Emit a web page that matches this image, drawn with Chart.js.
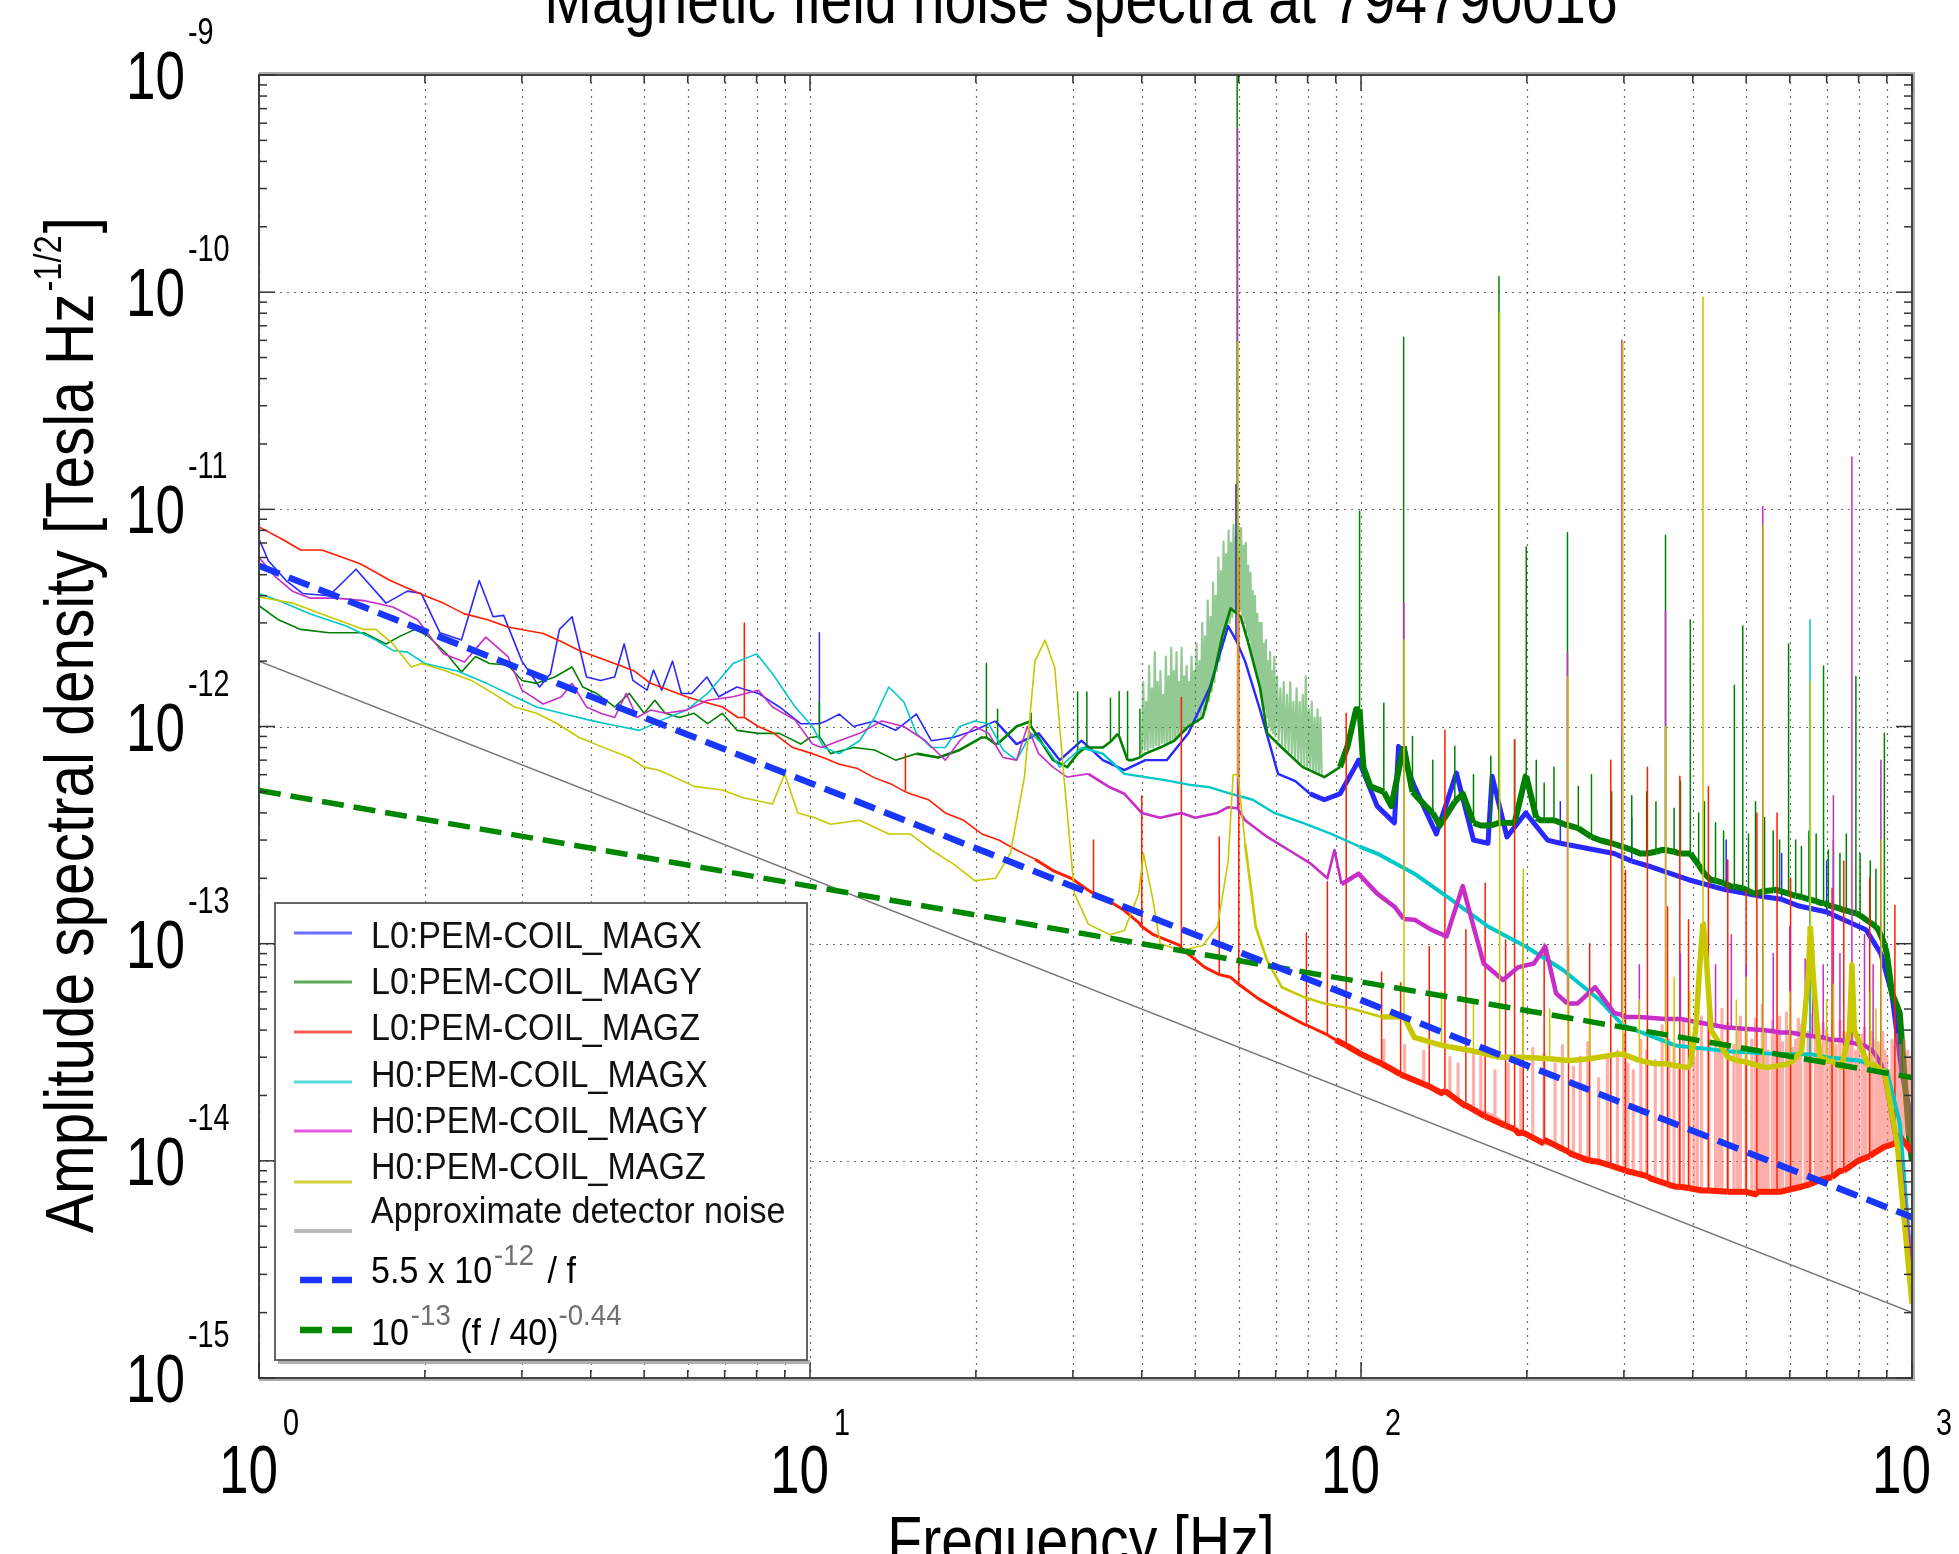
<!DOCTYPE html>
<html><head><meta charset="utf-8">
<script src="https://cdn.jsdelivr.net/npm/chart.js@4.4.1/dist/chart.umd.min.js"></script>
<style>html,body{margin:0;padding:0;background:#fff;}#wrap{width:1959px;height:1554px;position:relative;}</style>
</head><body><div id="wrap"><canvas id="c"></canvas></div>
<script>
// ---------------- DATA ----------------
const titleText = 'Magnetic field noise spectra at 794790016';
const xAxisTitle = 'Frequency [Hz]';
const yAxisTitleMain = 'Amplitude spectral density [Tesla Hz';
const yAxisTitleSup = '-1/2';
const yAxisTitleEnd = ']';

const xMajorTicks = [1, 10, 100, 1000];
const xTickExponents = ['0', '1', '2', '3'];
const yMajorTicks = [1e-15, 1e-14, 1e-13, 1e-12, 1e-11, 1e-10, 1e-9];
const yTickExponents = ['-15', '-14', '-13', '-12', '-11', '-10', '-9'];
const minorMultipliers = [2, 3, 4, 5, 6, 7, 8, 9];

const seriesNames = ['L0:PEM-COIL_MAGX', 'L0:PEM-COIL_MAGY', 'L0:PEM-COIL_MAGZ',
  'H0:PEM-COIL_MAGX', 'H0:PEM-COIL_MAGY', 'H0:PEM-COIL_MAGZ', 'Approximate detector noise'];

// [frequency Hz, amplitude]
const magxL0 = [[1.0,7.3e-12],[1.04,5.8e-12],[1.12,4.7e-12],[1.2,4.1e-12],[1.34,4.0e-12],[1.5,5.3e-12],[1.7,3.7e-12],[1.86,4.2e-12],[1.97,4.1e-12],[2.13,2.7e-12],[2.33,2.5e-12],[2.51,4.7e-12],[2.66,3.2e-12],[2.78,3.25e-12],[3.0,2.0e-12],[3.23,1.52e-12],[3.38,1.75e-12],[3.51,2.8e-12],[3.7,3.2e-12],[3.93,1.69e-12],[4.17,1.63e-12],[4.42,1.69e-12],[4.6,2.4e-12],[4.77,1.63e-12],[5.06,1.47e-12],[5.2,1.82e-12],[5.38,1.47e-12],[5.63,2.0e-12],[5.84,1.42e-12],[6.1,1.42e-12],[6.5,1.69e-12],[6.83,1.37e-12],[7.37,1.52e-12],[8.06,1.42e-12],[8.8,1.23e-12],[9.62,1.03e-12],[10.15,1.03e-12],[10.7,1.06e-12],[11.3,1.14e-12],[12.0,1.0e-12],[13.1,1.06e-12],[14.3,9.6e-13],[15.6,1.14e-12],[16.6,8.6e-13],[18.2,8.9e-13],[19.9,9.6e-13],[21.7,1.06e-12],[23.7,8.3e-13],[26.0,9.3e-13],[28.4,7.0e-13],[31.1,8.6e-13],[34.0,7.0e-13],[37.2,6.3e-13],[40.6,7.0e-13],[44.4,7.0e-13],[48.6,9.3e-13],[53.2,1.52e-12],[57.4,2.9e-12],[61.6,2.0e-12],[65.6,1.19e-12],[70.7,6.05e-13],[76.0,5.6e-13],[80.8,4.9e-13],[85.8,4.6e-13],[91.6,4.9e-13],[97.5,6.5e-13],[99.0,7.0e-13],[107,4.3e-13],[115,3.6e-13],[117,8.1e-13],[125,5.3e-13],[137,3.2e-13],[149,6.1e-13],[160,3.0e-13],[170,2.9e-13],[173,5.9e-13],[184,3.1e-13],[199,4.0e-13],[218,3.0e-13],[247,2.8e-13],[288,2.6e-13],[336,2.26e-13],[393,1.97e-13],[459,1.77e-13],[535,1.65e-13],[624,1.49e-13],[731,1.33e-13],[825,1.16e-13],[878,9.0e-14],[919,5.9e-14],[960,2.5e-14],[1000,1.5e-14]];
// [frequency, foot, peak]
const magxL0Spikes = [[10.4,1.03e-12,2.7e-12],[59.3,2.5e-12,1.3e-11],[230,2.9e-13,4.5e-13],[310,2.4e-13,3.8e-13],[460,1.77e-13,3.0e-13],[580,1.6e-13,2.6e-13],[700,1.4e-13,2.4e-13]];

const magyL0 = [[1.0,3.6e-12],[1.085,3.1e-12],[1.19,2.8e-12],[1.34,2.7e-12],[1.46,2.7e-12],[1.55,2.7e-12],[1.7,2.4e-12],[1.8,2.6e-12],[1.92,2.8e-12],[2.03,2.6e-12],[2.19,2.16e-12],[2.33,1.78e-12],[2.47,2.1e-12],[2.62,1.95e-12],[2.83,1.92e-12],[3.0,1.63e-12],[3.19,1.58e-12],[3.44,1.69e-12],[3.7,1.88e-12],[3.87,1.52e-12],[4.1,1.42e-12],[4.42,1.23e-12],[4.7,1.42e-12],[5.0,1.15e-12],[5.23,1.32e-12],[5.46,1.15e-12],[5.8,1.1e-12],[6.16,1.15e-12],[6.52,1.03e-12],[6.93,1.15e-12],[7.37,9.6e-13],[8.06,9.3e-13],[8.8,9.3e-13],[9.62,8.3e-13],[10.0,8.9e-13],[10.9,7.5e-13],[12.0,8.0e-13],[13.1,7.8e-13],[14.3,7.0e-13],[15.6,7.5e-13],[17.1,7.2e-13],[18.7,7.8e-13],[20.5,8.9e-13],[21.7,8.3e-13],[23.7,1.0e-12],[25.2,1.06e-12],[27.6,7.0e-13],[29.3,6.5e-13],[31.6,8.0e-13],[34.0,8.0e-13],[36.1,9.2e-13],[38.3,7.0e-13],[40.6,7.5e-13],[43.2,8.0e-13],[45.8,8.6e-13],[48.6,1.0e-12],[51.6,1.1e-12],[54.0,1.7e-12],[56.0,2.6e-12],[58.0,3.5e-12],[60.5,3.2e-12],[62.5,2.4e-12],[65.6,1.5e-12],[67.6,9.3e-13],[71.8,8.0e-13],[78.4,6.5e-13],[85.8,5.85e-13],[91.6,6.5e-13],[94.5,8.1e-13],[98.0,1.2e-12],[101,6.5e-13],[104,5.3e-13],[113.5,4.3e-13],[119.5,8.1e-13],[131,4.3e-13],[139,3.5e-13],[153,4.9e-13],[165,3.5e-13],[181,3.6e-13],[199,5.9e-13],[212,3.7e-13],[239,3.5e-13],[271,3.0e-13],[321,2.6e-13],[352,2.7e-13],[393,2.6e-13],[431,1.97e-13],[471,1.83e-13],[518,1.7e-13],[567,1.77e-13],[624,1.65e-13],[683,1.54e-13],[750,1.43e-13],[825,1.29e-13],[870,1.15e-13],[900,9.0e-14],[920,5.9e-14],[950,4.8e-14],[990,1.2e-14],[1000,1.0e-14]];
const magyL0Hump = [[40.0,7.5e-13],[40.25,1.6e-12],[40.5,7.8e-13],[40.75,1.3e-12],[41.0,7.8e-13],[41.25,1.9e-12],[41.5,8e-13],[41.75,1.5e-12],[42.0,8e-13],[42.25,2.2e-12],[42.5,8.2e-13],[42.75,1.6e-12],[43.0,8.2e-13],[43.25,1.8e-12],[43.5,8.4e-13],[43.75,1.4e-12],[44.0,8.4e-13],[44.25,2.1e-12],[44.5,8.5e-13],[44.75,1.7e-12],[45.0,8.6e-13],[45.25,2.3e-12],[45.5,8.8e-13],[45.75,1.8e-12],[46.0,8.8e-13],[46.25,2.2e-12],[46.5,9e-13],[46.75,1.6e-12],[47.0,9.2e-13],[47.25,2.3e-12],[47.5,9.5e-13],[47.75,1.7e-12],[48.0,9.6e-13],[48.25,1.9e-12],[48.5,1e-12],[48.75,1.6e-12],[49.0,1e-12],[49.25,2.1e-12],[49.5,1e-12],[49.75,1.8e-12],[50.0,1.05e-12],[50.3,2.4e-12],[50.6,1.05e-12],[50.9,2.0e-12],[51.2,1.1e-12],[51.5,3.0e-12],[51.8,1.15e-12],[52.1,2.6e-12],[52.4,1.2e-12],[52.7,3.8e-12],[53.0,1.3e-12],[53.3,3.2e-12],[53.6,1.45e-12],[53.9,4.6e-12],[54.2,1.6e-12],[54.5,4.0e-12],[54.8,1.8e-12],[55.1,6.0e-12],[55.4,2.0e-12],[55.7,5.2e-12],[56.0,2.3e-12],[56.3,7.1e-12],[56.6,2.5e-12],[56.9,6.2e-12],[57.2,2.8e-12],[57.5,8.0e-12],[57.8,3.0e-12],[58.1,7.0e-12],[58.4,3.2e-12],[58.7,8.5e-12],[59.0,3.4e-12],[59.3,7.5e-12],[59.6,3.5e-12],[60.0,8.3e-12],[60.3,3.4e-12],[60.6,8.2e-12],[60.9,3.2e-12],[61.2,6.8e-12],[61.5,3.0e-12],[61.8,7.0e-12],[62.1,2.7e-12],[62.4,5.5e-12],[62.7,2.5e-12],[63.0,5.1e-12],[63.3,2.2e-12],[63.6,4.2e-12],[63.9,2.0e-12],[64.2,4.0e-12],[64.5,1.8e-12],[64.8,3.3e-12],[65.1,1.6e-12],[65.4,3.0e-12],[65.7,1.45e-12],[66.0,3.0e-12],[66.3,1.3e-12],[66.6,2.4e-12],[66.9,1.2e-12],[67.2,2.5e-12],[67.5,1.1e-12],[67.8,2.0e-12],[68.1,1.0e-12],[68.4,2.2e-12],[68.7,9.6e-13],[69.0,1.8e-12],[69.3,9.3e-13],[69.6,2.1e-12],[69.9,9e-13],[70.4,1.7e-12],[70.9,8.6e-13],[71.4,1.5e-12],[71.9,8.2e-13],[72.4,1.6e-12],[72.9,7.9e-13],[73.4,1.4e-12],[73.9,7.7e-13],[74.4,1.6e-12],[74.9,7.5e-13],[75.4,1.3e-12],[75.9,7.2e-13],[76.4,1.5e-12],[76.9,7e-13],[77.4,1.3e-12],[77.9,6.8e-13],[78.4,1.4e-12],[78.9,6.6e-13],[79.4,1.7e-12],[79.9,6.5e-13],[80.4,1.2e-12],[80.9,6.4e-13],[81.4,1.3e-12],[81.9,6.2e-13],[82.4,1.1e-12],[82.9,6.1e-13],[83.4,1.2e-12],[83.9,6e-13],[84.4,1.1e-12],[84.9,5.9e-13]];
const magyL0Spikes = [[10.4,9e-13,1.3e-12],[20.9,8.9e-13,1.95e-12],[21.9,8.3e-13,1.2e-12],[25.2,1.0e-12,1.15e-12],[30.6,7.5e-13,1.44e-12],[31.8,8e-13,1.44e-12],[35.1,8.5e-13,1.35e-12],[36.4,9e-13,1.45e-12],[37.7,7e-13,1.45e-12],[39.7,7.2e-13,1.2e-12],[59.6,3.3e-12,1.0e-9],[99.4,1.2e-12,9.8e-12],[110,5e-13,1.28e-12],[119.5,8.1e-13,6.2e-11],[124,5e-13,9e-13],[135,4e-13,7e-13],[148,4.5e-13,8.1e-13],[160,3.6e-13,6e-13],[172,3.5e-13,7.3e-13],[178,3.6e-13,1.18e-10],[190,3.6e-13,8.7e-13],[199.5,5.9e-13,6.7e-12],[208,3.8e-13,7e-13],[215,3.7e-13,5.5e-13],[224,3.7e-13,6.5e-13],[237,3.5e-13,7.8e-12],[248,3.4e-13,5.3e-13],[262,3.1e-13,6.0e-13],[285,2.9e-13,5e-13],[298,2.8e-13,9e-13],[310,2.7e-13,4.8e-13],[330,2.6e-13,5.0e-13],[343,2.65e-13,4.5e-13],[357,2.7e-13,7.6e-12],[370,2.65e-13,4.2e-13],[380,2.6e-13,5.6e-13],[396,2.6e-13,3.1e-12],[410,2.3e-13,4e-13],[420,2.1e-13,4.5e-13],[440,1.95e-13,3.6e-13],[455,1.9e-13,3.3e-13],[476,1.83e-13,1.55e-12],[493,1.8e-13,2.9e-12],[505,1.75e-13,3.2e-13],[520,1.7e-13,4.5e-13],[540,1.75e-13,3.8e-13],[560,1.76e-13,3.3e-13],[575,1.75e-13,3.0e-13],[597,1.7e-13,2.4e-12],[615,1.66e-13,3.0e-13],[630,1.64e-13,2.8e-13],[650,1.6e-13,3.3e-13],[670,1.57e-13,3.2e-13],[691,1.54e-13,1.9e-12],[705,1.5e-13,2.7e-13],[720,1.48e-13,3.0e-13],[740,1.45e-13,2.6e-13],[760,1.42e-13,3.2e-13],[791,1.38e-13,1.7e-12],[805,1.35e-13,2.6e-13],[840,1.25e-13,2.4e-13],[860,1.2e-13,2.2e-13],[891,1.0e-13,9.3e-13]];

const magzL0 = [[1.0,8.3e-12],[1.1,7.3e-12],[1.19,6.5e-12],[1.3,6.5e-12],[1.42,6.0e-12],[1.53,5.6e-12],[1.73,4.7e-12],[2.0,4.0e-12],[2.16,3.7e-12],[2.36,3.3e-12],[2.6,3.1e-12],[2.83,2.87e-12],[3.28,2.68e-12],[3.55,2.45e-12],[3.81,2.24e-12],[4.42,1.95e-12],[4.8,1.8e-12],[5.14,1.58e-12],[5.97,1.37e-12],[6.4,1.3e-12],[6.94,1.23e-12],[7.4,1.1e-12],[8.06,1.0e-12],[8.6,9.3e-13],[9.3,8.0e-13],[10.1,7.5e-13],[10.7,7.1e-13],[11.3,6.7e-13],[12.2,6.4e-13],[13.1,5.8e-13],[14.1,5.4e-13],[15.2,4.9e-13],[16.4,4.6e-13],[17.6,4.0e-13],[19.0,3.7e-13],[20.5,3.2e-13],[22.0,3.0e-13],[23.7,2.7e-13],[25.6,2.45e-13],[27.6,2.17e-13],[29.8,2.0e-13],[32.0,1.76e-13],[34.5,1.6e-13],[37.2,1.42e-13],[39.5,1.25e-13],[42.0,1.1e-13],[47.0,9.8e-14],[52.0,7.8e-14],[58.0,7.0e-14],[65.0,5.6e-14],[72.0,4.8e-14],[80.0,4.2e-14],[90.0,3.6e-14],[100,3.1e-14],[112,2.7e-14],[125,2.35e-14],[140,2.05e-14],[155,1.78e-14],[173,1.55e-14],[193,1.34e-14],[215,1.2e-14],[240,1.08e-14],[270,9.9e-15],[299,9.1e-15],[335,8.3e-15],[372,7.6e-15],[415,7.3e-15],[463,7.2e-15],[520,7.0e-15],[576,7.2e-15],[630,7.6e-15],[685,8.2e-15],[740,9.0e-15],[798,1.0e-14],[850,1.08e-14],[891,1.16e-14],[950,1.3e-14],[1000,1.1e-14]];
const magzL0Spikes = [[7.6,1.1e-12,3.0e-12],[14.9,5.0e-13,7.5e-13],[32.7,1.7e-13,3.0e-13],[40.0,1.2e-13,4.8e-13],[47.2,9.5e-14,1.36e-12],[55.3,7.2e-14,3.1e-13],[60.0,6.5e-14,6e-12],[79.6,4.2e-14,1.12e-13],[86.9,3.8e-14,1.93e-13],[94,3.4e-14,1.15e-12],[109,2.8e-14,7.4e-14],[118,2.5e-14,6.6e-14],[133,2.2e-14,9.7e-14],[142,2.1e-14,9.6e-13],[155,1.8e-14,1.16e-13],[168,1.6e-14,1.9e-13],[183,1.45e-14,1.04e-13],[190,1.4e-14,8.7e-13],[197,1.35e-14,1.83e-13],[215,1.25e-14,1.0e-13],[238,1.1e-14,9.7e-14],[260,1.0e-14,1.0e-13],[284,9.5e-15,7.0e-13],[302,9.0e-15,2.18e-13],[331,8.5e-15,6.5e-13],[360,7.8e-15,1.48e-13],[379,7.6e-15,5.9e-13],[393,7.5e-15,1.29e-13],[427,7.3e-15,5.3e-13],[463,7.2e-15,2.43e-13],[500,7.2e-15,1.77e-13],[523,7.2e-15,4.0e-13],[569,7.2e-15,4.0e-13],[602,7.4e-15,2.0e-13],[653,7.8e-15,3.2e-13],[716,8.4e-15,1.8e-13],[752,9.0e-15,2.4e-13],[838,1.05e-14,2.0e-13],[931,1.2e-14,1.5e-13]];
const magzL0Dense = [[110,2.7e-14,3.6e-14],[120,2.5e-14,3.4e-14],[130,2.3e-14,3.2e-14],[145,2.0e-14,3.0e-14],[150,1.9e-14,2.8e-14],[160,1.75e-14,3.2e-14],[165,1.7e-14,3.0e-14],[175,1.6e-14,2.6e-14],[185,1.45e-14,2.8e-14],[195,1.35e-14,3.0e-14],[205,1.3e-14,3.3e-14],[215,1.2e-14,3.1e-14],[225,1.2e-14,2.8e-14],[232,1.12e-14,3.4e-14],[243,1.08e-14,2.7e-14],[250,1.05e-14,3.0e-14],[258,1.03e-14,3.5e-14],[270,1.0e-14,2.4e-14],[280,9.6e-15,3.0e-14],[292,9.3e-15,3.2e-14],[300,9.1e-15,3.8e-14],[305,9.0e-15,2.8e-14],[312,8.8e-15,2.6e-14],[322,8.6e-15,3.6e-14],[330,8.4e-15,3.2e-14],[342,8.2e-15,2.9e-14],[352,8.0e-15,4.2e-14],[362,7.8e-15,3.6e-14],[370,7.7e-15,3.3e-14],[378,7.6e-15,2.8e-14],[385,7.6e-15,4.4e-14],[395,7.5e-15,3.7e-14],[402,7.4e-15,3.0e-14],[408,7.4e-15,3.3e-14],[415,7.3e-15,4.6e-14],[428,7.3e-15,4.1e-14],[440,7.3e-15,3.8e-14],[446,7.25e-15,3.2e-14],[452,7.2e-15,5.0e-14],[463,7.2e-15,4.3e-14],[475,7.2e-15,3.4e-14],[482,7.2e-15,3.9e-14],[488,7.2e-15,4.6e-14],[500,7.2e-15,4.0e-14],[512,7.2e-15,3.6e-14],[520,7.2e-15,4.5e-14],[528,7.2e-15,3.1e-14],[535,7.2e-15,5.2e-14],[542,7.2e-15,4.0e-14],[548,7.2e-15,3.2e-14],[558,7.2e-15,4.4e-14],[565,7.25e-15,3.9e-14],[575,7.3e-15,4.6e-14],[582,7.3e-15,3.5e-14],[592,7.3e-15,4.8e-14],[600,7.4e-15,4.0e-14],[608,7.45e-15,3.3e-14],[615,7.5e-15,3.6e-14],[622,7.55e-15,4.5e-14],[628,7.6e-15,4.2e-14],[640,7.7e-15,3.0e-14],[648,7.8e-15,3.9e-14],[655,7.85e-15,4.7e-14],[668,8.0e-15,4.5e-14],[675,8.1e-15,3.7e-14],[682,8.2e-15,3.3e-14],[690,8.2e-15,4.3e-14],[700,8.3e-15,4.0e-14],[710,8.4e-15,3.6e-14],[718,8.5e-15,4.2e-14],[728,8.6e-15,3.4e-14],[740,8.8e-15,4.4e-14],[752,9.0e-15,3.9e-14],[758,9.1e-15,3.2e-14],[765,9.3e-15,3.5e-14],[772,9.4e-15,4.0e-14],[778,9.5e-15,4.2e-14],[790,9.8e-15,3.2e-14],[800,1.0e-14,3.6e-14],[812,1.02e-14,3.8e-14],[820,1.03e-14,4.1e-14],[825,1.04e-14,3.0e-14],[838,1.06e-14,3.3e-14],[845,1.07e-14,3.9e-14],[850,1.08e-14,3.6e-14],[862,1.1e-14,2.8e-14],[868,1.11e-14,3.5e-14],[875,1.12e-14,3.4e-14],[885,1.14e-14,3.9e-14],[893,1.15e-14,3.2e-14],[900,1.16e-14,3.0e-14],[912,1.18e-14,2.6e-14],[920,1.2e-14,3.6e-14],[930,1.22e-14,3.3e-14],[938,1.24e-14,3.8e-14],[945,1.25e-14,2.8e-14],[952,1.27e-14,3.4e-14],[960,1.3e-14,2.5e-14],[968,1.32e-14,3.6e-14],[975,1.35e-14,2.6e-14],[982,1.33e-14,3.2e-14],[990,1.3e-14,2.2e-14],[995,1.2e-14,3.0e-14]];

const magxH0 = [[1.0,4.1e-12],[1.085,3.8e-12],[1.24,3.3e-12],[1.44,2.9e-12],[1.63,2.5e-12],[1.75,2.24e-12],[1.86,2.2e-12],[2.0,1.95e-12],[2.29,1.8e-12],[2.59,1.58e-12],[2.91,1.37e-12],[3.19,1.23e-12],[3.54,1.15e-12],[3.98,1.07e-12],[4.42,1.01e-12],[4.91,9.6e-13],[5.38,1.07e-12],[5.97,1.19e-12],[6.52,1.42e-12],[7.25,1.95e-12],[8.0,2.16e-12],[8.55,1.75e-12],[9.4,1.23e-12],[10.1,1.0e-12],[10.6,8.0e-13],[11.3,7.5e-13],[12.3,8.6e-13],[13.1,1.1e-12],[13.9,1.52e-12],[14.8,1.3e-12],[15.6,9.3e-13],[16.6,8.0e-13],[17.6,8.0e-13],[18.7,1.0e-12],[19.9,1.06e-12],[21.1,1.03e-12],[22.4,7.8e-13],[23.7,7.0e-13],[25.2,9.3e-13],[26.8,8.0e-13],[28.4,6.5e-13],[31.1,8.0e-13],[34.0,7.5e-13],[37.2,6.05e-13],[40.6,5.85e-13],[44.4,5.65e-13],[48.6,5.4e-13],[53.2,5.25e-13],[58.1,4.9e-13],[63.6,4.6e-13],[69.6,4.0e-13],[78.4,3.6e-13],[88.3,3.2e-13],[99.4,2.8e-13],[107,2.6e-13],[125,2.1e-13],[146,1.59e-13],[170,1.2e-13],[199,9.7e-14],[232,7.6e-14],[271,5.5e-14],[299,4.2e-14],[372,3.4e-14],[463,3.2e-14],[576,3.1e-14],[700,3.0e-14],[800,2.9e-14],[900,2.6e-14],[950,1.5e-14],[1000,3e-15]];
const magxH0Spikes = [[653,3.1e-14,3.1e-12]];

const magyH0 = [[1.0,6.0e-12],[1.07,4.9e-12],[1.15,4.2e-12],[1.24,3.9e-12],[1.38,3.9e-12],[1.55,3.8e-12],[1.75,3.55e-12],[1.94,3.1e-12],[2.16,2.16e-12],[2.36,1.98e-12],[2.58,2.58e-12],[2.83,2.1e-12],[3.0,1.47e-12],[3.28,1.27e-12],[3.54,1.37e-12],[3.7,1.58e-12],[3.93,1.23e-12],[4.17,1.15e-12],[4.42,1.1e-12],[4.64,1.42e-12],[4.85,1.1e-12],[5.14,1.19e-12],[5.46,1.15e-12],[5.97,1.19e-12],[6.52,1.32e-12],[7.25,1.37e-12],[8.06,1.47e-12],[8.55,1.23e-12],[9.4,1.07e-12],[10.1,8.3e-13],[10.5,8.0e-13],[11.3,8.6e-13],[12.3,9.3e-13],[13.5,1.06e-12],[14.8,1.0e-12],[16.2,8.6e-13],[17.6,7.0e-13],[18.7,8.6e-13],[19.9,1.0e-12],[21.1,9.3e-13],[22.4,7.2e-13],[23.7,7.0e-13],[24.8,1.0e-12],[26.0,7.5e-13],[27.6,6.5e-13],[29.3,5.85e-13],[32.0,6.05e-13],[35.0,5.25e-13],[37.2,4.9e-13],[40.0,4.0e-13],[43.2,3.8e-13],[47.2,4.0e-13],[50.0,3.8e-13],[54.9,4.0e-13],[57.4,4.25e-13],[61.6,3.7e-13],[67.6,3.1e-13],[73.9,2.7e-13],[80.8,2.35e-13],[86.9,2.0e-13],[89.5,2.7e-13],[92.2,1.88e-13],[99.0,2.1e-13],[107,1.7e-13],[115,1.48e-13],[125,1.29e-13],[134,1.16e-13],[143,1.08e-13],[153,1.84e-13],[160,1.2e-13],[167,8.1e-14],[181,6.8e-14],[193,7.8e-14],[206,8.1e-14],[216,9.7e-14],[226,5.9e-14],[247,5.3e-14],[266,6.3e-14],[288,4.8e-14],[299,4.6e-14],[372,4.5e-14],[463,4.1e-14],[576,3.9e-14],[716,3.6e-14],[812,3.4e-14],[891,2.5e-14],[950,1.0e-14],[1000,3e-15]];
const magyH0Spikes = [[59.7,4.2e-13,5.7e-10],[119.6,1.3e-13,3.7e-12],[237,5.3e-14,2.2e-12],[297.5,4.7e-14,6.0e-11],[320,4.6e-14,8e-14],[357,4.5e-14,3.4e-12],[380,4.5e-14,9e-14],[440,4.2e-14,8e-14],[470,4.1e-14,1.1e-13],[500,4.05e-14,8e-14],[536,4.0e-14,1.03e-11],[560,3.95e-14,9e-14],[600,3.9e-14,1.2e-13],[640,3.8e-14,8.5e-14],[660,3.75e-14,1.0e-13],[690,3.7e-14,8e-14],[720,3.6e-14,4.8e-13],[740,3.6e-14,9e-14],[778,3.5e-14,1.74e-11],[820,3.4e-14,1.1e-13],[850,3.2e-14,8e-14],[878,2.8e-14,7e-13]];

const magzH0 = [[1.0,3.95e-12],[1.15,3.7e-12],[1.34,3.2e-12],[1.55,2.8e-12],[1.63,2.8e-12],[1.75,2.4e-12],[1.89,1.88e-12],[1.97,1.95e-12],[2.16,1.82e-12],[2.43,1.63e-12],[2.66,1.42e-12],[2.91,1.23e-12],[3.19,1.15e-12],[3.48,1.03e-12],[3.81,8.9e-13],[4.17,8.1e-13],[4.7,7.2e-13],[5.0,6.5e-13],[5.3,6.3e-13],[5.63,5.9e-13],[6.16,5.3e-13],[6.93,5.1e-13],[7.56,4.7e-13],[8.55,4.4e-13],[9.0,6.05e-13],[9.5,4.0e-13],[10.2,3.8e-13],[10.9,3.55e-13],[12.3,3.7e-13],[13.9,3.2e-13],[15.2,3.2e-13],[16.6,2.7e-13],[18.2,2.33e-13],[19.9,1.95e-13],[21.7,2.0e-13],[23.1,2.6e-13],[24.5,5.85e-13],[25.6,2.0e-12],[26.7,2.5e-12],[27.8,1.88e-12],[28.9,5.85e-13],[30.2,1.7e-13],[32.0,1.23e-13],[35.0,1.1e-13],[37.2,1.15e-13],[39.5,1.7e-13],[40.3,2.6e-13],[41.8,1.65e-13],[43.2,1.0e-13],[47.2,9.3e-14],[51.6,9.8e-14],[54.9,1.2e-13],[57.4,2.4e-13],[58.6,6e-13],[61.6,2.9e-13],[64.4,1.2e-13],[67.5,8.4e-14],[71.8,6.3e-14],[78.4,5.7e-14],[85.8,5.3e-14],[96.8,5.0e-14],[109,4.6e-14],[125,3.7e-14],[155,3.25e-14],[193,3.0e-14],[240,2.9e-14],[293,3.1e-14],[341,2.8e-14],[387,2.7e-14],[405,4e-14],[412,8e-14],[418,1.24e-13],[424,8e-14],[432,4e-14],[463,3.0e-14],[551,2.7e-14],[630,3.2e-14],[648,7e-14],[655,1.2e-13],[662,7e-14],[680,3e-14],[745,2.7e-14],[770,4e-14],[778,8e-14],[786,4e-14],[830,2.8e-14],[891,2.6e-14],[940,1.2e-14],[1000,2.2e-15]];
const magzH0Spikes = [[59.8,6e-13,5.9e-11],[119.7,4.6e-14,2.5e-12],[140,3.4e-14,6e-14],[160,3.2e-14,5.5e-14],[178.5,3.0e-14,8e-11],[197,3.0e-14,2.2e-13],[220,2.95e-14,5e-14],[237.5,2.9e-14,1.7e-12],[260,2.95e-14,6e-14],[298.7,3.1e-14,5.9e-11],[320,2.9e-14,5.5e-14],[357.5,2.8e-14,1.0e-12],[370,2.75e-14,7e-14],[395,2.7e-14,6e-14],[417.5,1.24e-13,9.5e-11],[480,2.9e-14,5.5e-14],[500,2.85e-14,7e-14],[537,2.7e-14,8.5e-12],[600,2.8e-14,6e-14],[654,1.2e-13,1.6e-12],[700,2.9e-14,5.5e-14],[720,2.85e-14,6.5e-14],[840,2.8e-14,6e-14],[860,2.75e-14,5e-14],[880,2.6e-14,3e-13]];

const detectorNoise = [[1, 2.0e-12], [1000, 2.0e-15]];
const oneOverFModel = [[1, 5.5e-12], [1000, 5.5e-15]];
const powerLawModel = [[1, 5.07e-13], [1000, 2.42e-14]];

// ---------------- BUILD ----------------
function buildSeries(base, spikes) {
  const groups = base.map(p => ({ x: p[0], pts: [{ x: p[0], y: p[1] }] }));
  (spikes || []).forEach(s => groups.push({ x: s[0], pts: [{ x: s[0], y: s[1] }, { x: s[0], y: s[2] }, { x: s[0], y: s[1] }] }));
  groups.sort((a, b) => a.x - b.x);
  return groups.flatMap(g => g.pts);
}
function widthRule(thin, mid, thick, midFrom, thickFrom) {
  return ctx => {
    const a = ctx.p0.parsed.x, b = ctx.p1.parsed.x;
    if (a === b) return 1.5;
    return a >= thickFrom ? thick : (a >= midFrom ? mid : thin);
  };
}
function lineDs(label, data, color, order, seg, extra) {
  return Object.assign({
    label, data, borderColor: color, backgroundColor: color, borderWidth: 1.6,
    pointRadius: 0, fill: false, tension: 0, order, clip: 0,
    borderJoinStyle: 'round', segment: seg ? { borderWidth: seg } : undefined
  }, extra || {});
}

const COL = {
  blue: 'rgb(40,40,255)', green: 'rgb(0,128,0)', red: 'rgb(255,30,0)',
  cyan: 'rgb(0,200,200)', magenta: 'rgb(200,45,200)', yellow: 'rgb(200,200,0)'
};

const datasets = [
  lineDs('L0:PEM-COIL_MAGY (dense)', buildSeries(magyL0Hump), 'rgba(40,150,40,0.5)', 11, null, { borderWidth: 2.2 }),
  lineDs(seriesNames[0], buildSeries(magxL0, magxL0Spikes), COL.blue, 10, widthRule(1.6, 2.4, 5, 20, 80)),
  lineDs(seriesNames[1], buildSeries(magyL0, magyL0Spikes), COL.green, 9, widthRule(1.6, 2.6, 6, 15, 90)),
  lineDs(seriesNames[2] + ' (dense)', buildSeries([], magzL0Dense), 'rgba(255,110,100,0.55)', 8.5, null, { borderWidth: 3.2 }),
  lineDs(seriesNames[2], buildSeries(magzL0, magzL0Spikes), COL.red, 8, widthRule(1.6, 3, 6, 25, 90)),
  lineDs(seriesNames[3], buildSeries(magxH0, magxH0Spikes), COL.cyan, 7, widthRule(1.6, 2.4, 4, 30, 90)),
  lineDs(seriesNames[4], buildSeries(magyH0, magyH0Spikes), COL.magenta, 6, widthRule(1.6, 2.6, 4.5, 30, 90)),
  lineDs(seriesNames[5], buildSeries(magzH0, magzH0Spikes), COL.yellow, 5, widthRule(1.6, 2.6, 5.5, 60, 100)),
  lineDs(seriesNames[6], buildSeries(detectorNoise), 'rgb(120,120,120)', 3, null, { borderWidth: 1.5 }),
  lineDs('power law', buildSeries(powerLawModel), 'rgb(0,135,0)', 2, null, { borderWidth: 5.5, borderDash: [22, 10], borderCapStyle: 'butt' }),
  lineDs('one over f', buildSeries(oneOverFModel), 'rgb(25,55,250)', 1, null, { borderWidth: 6.5, borderDash: [22, 10], borderCapStyle: 'butt' })
];

// ---------------- DRAW HELPERS ----------------
const FONT = '"Liberation Sans", Arial, Helvetica, sans-serif';
function tw(ctx, s, size, hs) { ctx.save(); ctx.font = size + 'px ' + FONT; const w = ctx.measureText(s).width * hs; ctx.restore(); return w; }
function dt(ctx, s, x, y, size, hs, color, align) {
  ctx.save(); ctx.font = size + 'px ' + FONT; ctx.fillStyle = color || '#000';
  ctx.textBaseline = 'alphabetic'; ctx.textAlign = align || 'left';
  ctx.translate(x, y); ctx.scale(hs, 1); ctx.fillText(s, 0, 0); ctx.restore();
}
function rich(ctx, parts, x, y) {
  let cx = x;
  parts.forEach(p => { dt(ctx, p.t, cx + (p.dx || 0), y + (p.dy || 0), p.size, p.hs, p.color); cx += (p.dx || 0) + tw(ctx, p.t, p.size, p.hs); });
  return cx - x;
}
function richWidth(ctx, parts) { return parts.reduce((a, p) => a + (p.dx || 0) + tw(ctx, p.t, p.size, p.hs), 0); }

const decorPlugin = {
  id: 'decor',
  beforeDraw(chart) {
    const c = chart.ctx; c.save(); c.fillStyle = '#fff'; c.fillRect(0, 0, chart.width, chart.height); c.restore();
  },
  beforeDatasetsDraw(chart) {
    const c = chart.ctx, xs = chart.scales.x, ys = chart.scales.y, a = chart.chartArea;
    c.save(); c.strokeStyle = 'rgba(80,80,80,0.85)'; c.lineWidth = 1.2; c.setLineDash([2, 5]);
    xMajorTicks.forEach((d, i) => {
      const vals = [d].concat(i < xMajorTicks.length - 1 ? minorMultipliers.map(m => m * d) : []);
      vals.forEach(v => { const px = Math.round(xs.getPixelForValue(v)) + 0.5; c.beginPath(); c.moveTo(px, a.top); c.lineTo(px, a.bottom); c.stroke(); });
    });
    yMajorTicks.forEach(v => { const py = Math.round(ys.getPixelForValue(v)) + 0.5; c.beginPath(); c.moveTo(a.left, py); c.lineTo(a.right, py); c.stroke(); });
    c.restore();
  },
  afterDatasetsDraw(chart) {
    const c = chart.ctx, xs = chart.scales.x, ys = chart.scales.y, a = chart.chartArea;
    c.save();
    c.strokeStyle = '#aaa'; c.lineWidth = 2;
    c.beginPath(); c.moveTo(a.left, a.top - 2); c.lineTo(a.right + 2, a.top - 2); c.lineTo(a.right + 2, a.bottom + 2); c.lineTo(a.left, a.bottom + 2); c.stroke();
    c.strokeStyle = '#444'; c.lineWidth = 2; c.strokeRect(a.left, a.top, a.right - a.left, a.bottom - a.top);
    c.strokeStyle = '#333'; c.lineWidth = 1.5;
    const tick = (x1, y1, x2, y2) => { c.beginPath(); c.moveTo(x1, y1); c.lineTo(x2, y2); c.stroke(); };
    xMajorTicks.forEach((d, i) => {
      const px = xs.getPixelForValue(d);
      tick(px, a.bottom, px, a.bottom - 16); tick(px, a.top, px, a.top + 16);
      if (i < xMajorTicks.length - 1) minorMultipliers.forEach(m => { const p = xs.getPixelForValue(m * d); tick(p, a.bottom, p, a.bottom - 8); tick(p, a.top, p, a.top + 8); });
    });
    yMajorTicks.forEach((d, i) => {
      const py = ys.getPixelForValue(d);
      tick(a.left, py, a.left + 16, py); tick(a.right, py, a.right - 16, py);
      if (i < yMajorTicks.length - 1) minorMultipliers.forEach(m => { const p = ys.getPixelForValue(m * d); tick(a.left, p, a.left + 8, p); tick(a.right, p, a.right - 8, p); });
    });
    const L = { x: 275, y: 903, w: 532, h: 457 };
    c.fillStyle = '#b0b0b0'; c.fillRect(L.x + 3, L.y + L.h, L.w, 4);
    c.fillStyle = '#fff'; c.fillRect(L.x, L.y, L.w, L.h);
    c.strokeStyle = '#555'; c.lineWidth = 1.8; c.strokeRect(L.x, L.y, L.w, L.h);
    const lineY = [933, 982, 1032, 1082, 1131, 1182, 1231, 1280, 1330];
    const textY = [948, 994, 1040, 1087, 1133, 1179, 1223, 1283, 1345];
    const legCols = ['rgb(110,110,255)', 'rgb(90,170,90)', 'rgb(255,90,90)', 'rgb(90,220,220)', 'rgb(230,90,230)', 'rgb(210,210,60)', 'rgb(185,185,185)'];
    for (let i = 0; i < 7; i++) {
      c.strokeStyle = legCols[i]; c.lineWidth = i === 6 ? 4 : 3; c.setLineDash([]);
      c.beginPath(); c.moveTo(294, lineY[i]); c.lineTo(352, lineY[i]); c.stroke();
      dt(c, seriesNames[i], 371, textY[i], 37, 0.92, '#111');
    }
    c.lineWidth = 6.5; c.setLineDash([22, 10]); c.lineDashOffset = -6;
    c.strokeStyle = 'rgb(25,55,250)'; c.beginPath(); c.moveTo(294, lineY[7]); c.lineTo(352, lineY[7]); c.stroke();
    c.strokeStyle = 'rgb(0,135,0)'; c.beginPath(); c.moveTo(294, lineY[8]); c.lineTo(352, lineY[8]); c.stroke();
    c.setLineDash([]);
    const sup = '#707070';
    rich(c, [{ t: '5.5 x 10', size: 37, hs: 0.92 }, { t: '-12', size: 30, hs: 0.92, dy: -18, dx: 2, color: sup }, { t: ' / f', size: 37, hs: 0.92, dx: 4 }], 371, textY[7]);
    rich(c, [{ t: '10', size: 37, hs: 0.92 }, { t: '-13', size: 30, hs: 0.92, dy: -20, dx: 2, color: sup }, { t: ' (f / 40)', size: 37, hs: 0.92, dx: 0 }, { t: '-0.44', size: 30, hs: 0.92, dy: -20, color: sup }], 371, textY[8]);
    c.restore();
  },
  afterDraw(chart) {
    const c = chart.ctx, xs = chart.scales.x, ys = chart.scales.y;
    c.save();
    yMajorTicks.forEach((v, i) => {
      const py = ys.getPixelForValue(v);
      dt(c, '10', 185, py + 24, 68, 0.78, '#000', 'right');
      dt(c, yTickExponents[i], 188, py - 31, 36, 0.8, '#000', 'left');
    });
    xMajorTicks.forEach((v, i) => {
      const px = xs.getPixelForValue(v);
      const w10 = tw(c, '10', 68, 0.78), we = tw(c, xTickExponents[i], 36, 0.8);
      const left = px - (w10 + 5 + we) / 2;
      dt(c, '10', left, 1493, 68, 0.78, '#000');
      dt(c, xTickExponents[i], left + w10 + 5, 1435, 36, 0.8, '#000');
    });
    dt(c, titleText, 1081, 23, 68, 0.84, '#000', 'center');
    dt(c, xAxisTitle, 1081, 1564, 68, 0.84, '#000', 'center');
    const yparts = [{ t: yAxisTitleMain, size: 68, hs: 0.86 }, { t: yAxisTitleSup, size: 38, hs: 0.86, dy: -32, dx: 2 }, { t: yAxisTitleEnd, size: 68, hs: 0.86, dx: 2 }];
    c.translate(93, 725); c.rotate(-Math.PI / 2);
    rich(c, yparts, -richWidth(c, yparts) / 2, 0);
    c.restore();
  }
};

new Chart(document.getElementById('c'), {
  type: 'line',
  data: { datasets },
  options: {
    responsive: true, maintainAspectRatio: false, animation: false, events: [],
    parsing: false,
    layout: { padding: { left: 259, top: 75, right: 47, bottom: 176 } },
    plugins: { legend: { display: false }, tooltip: { enabled: false }, title: { display: false } },
    scales: {
      x: { type: 'logarithmic', min: 1, max: 1000, ticks: { display: false }, grid: { display: false }, border: { display: false }, afterFit: s => { s.height = 0; } },
      y: { type: 'logarithmic', min: 1e-15, max: 1e-9, ticks: { display: false }, grid: { display: false }, border: { display: false }, afterFit: s => { s.width = 0; } }
    }
  },
  plugins: [decorPlugin]
});
</script></body></html>
